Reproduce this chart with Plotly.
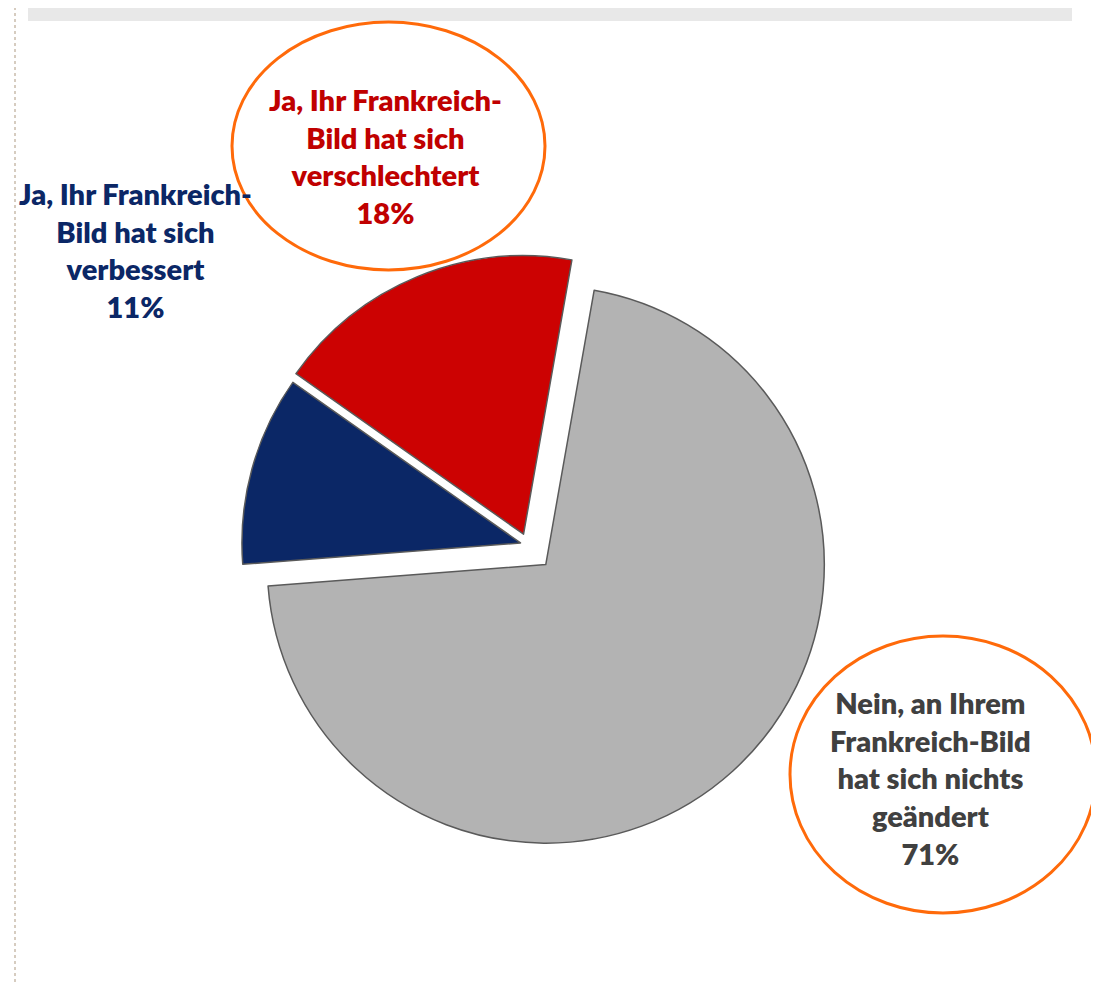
import plotly.graph_objects as go

OFF = 8  # page body margin
W, H = 1099 - OFF, 982 - OFF

labels = ["Nein, an Ihrem Frankreich-Bild hat sich nichts geändert",
          "Ja, Ihr Frankreich-Bild hat sich verbessert",
          "Ja, Ihr Frankreich-Bild hat sich verschlechtert"]
values = [71, 11, 18]
colors = ["#B3B3B3", "#0B2766", "#CC0202"]
pulls = [0.095, 0.028, 0.042]
label_lines = [["Nein, an Ihrem", "Frankreich-Bild", "hat sich nichts", "geändert"],
               ["Ja, Ihr Frankreich-", "Bild hat sich", "verbessert"],
               ["Ja, Ihr Frankreich-", "Bild hat sich", "verschlechtert"]]
text_colors = ["#404040", "#0B2766", "#C00000"]


def px(x):
    return (x - OFF) / W


def py(y):
    return 1 - (y - OFF) / H


fig = go.Figure()
fig.add_trace(go.Pie(
    labels=labels, values=values, sort=False, direction="clockwise",
    rotation=10, pull=pulls,
    marker=dict(colors=colors, line=dict(color="#5A5A5A", width=1.5)),
    textinfo="none", hoverinfo="label+percent", showlegend=False,
    domain=dict(x=[px(220), px(836)], y=[py(850), py(240)]),
))

# label positions (pixel centres)
label_pos = [(930, 778), (135, 250), (385, 156)]
for i in range(3):
    txt = "<br>".join(label_lines[i] + [f"{values[i]}%"])
    fig.add_annotation(
        x=px(label_pos[i][0]), y=py(label_pos[i][1]), xref="paper", yref="paper",
        xanchor="center", yanchor="middle",
        text=txt, showarrow=False, align="center",
        font=dict(family="Lato", size=29, color=text_colors[i], weight=800),
    )

shapes = [
    dict(type="rect", xref="paper", yref="paper", x0=px(28), x1=px(1072),
         y0=py(21), y1=py(0), fillcolor="#E8E8E8", line=dict(width=0), layer="below"),
    dict(type="line", xref="paper", yref="paper", x0=px(15), x1=px(15),
         y0=0, y1=py(0), line=dict(color="#D6CCC0", width=2, dash="dot")),
    dict(type="circle", xref="paper", yref="paper", x0=px(232), x1=px(545),
         y0=py(270), y1=py(22), line=dict(color="#FF6A0A", width=3)),
    dict(type="circle", xref="paper", yref="paper", x0=px(790), x1=px(1096),
         y0=py(913), y1=py(636), line=dict(color="#FF6A0A", width=3)),
]

fig.update_layout(
    width=W, height=H, margin=dict(l=0, r=0, t=0, b=0),
    paper_bgcolor="white", plot_bgcolor="white", shapes=shapes,
)

fig.write_html("out.html")
